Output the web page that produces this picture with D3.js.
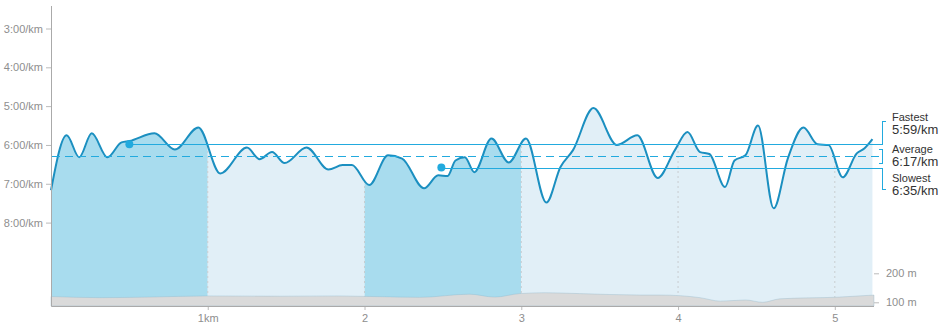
<!DOCTYPE html>
<html>
<head>
<meta charset="utf-8">
<script src="https://cdn.jsdelivr.net/npm/d3@7"></script>
<style>
  body { margin: 0; background: #fff; }
  svg { display: block; font-family: Arial, "Liberation Sans", sans-serif; }
  .axis text { fill: #8e8e8e; font-size: 11px; }
  .axis line { stroke: #bbb; }
</style>
</head>
<body>
<div class="canvas"></div>
<script>
// pace along the run: distance (km) and pace (seconds per km)
const distKm = [0, 0.10, 0.18, 0.26, 0.36, 0.45, 0.50, 0.66, 0.79, 0.94, 1.08, 1.25, 1.33, 1.41, 1.49,
    1.63, 1.77, 1.86, 1.92, 2.03, 2.15, 2.24, 2.38, 2.47, 2.53, 2.58, 2.64, 2.70, 2.81, 2.92, 3.03,
    3.16, 3.25, 3.33, 3.46, 3.61, 3.74, 3.87, 3.98, 4.06, 4.14, 4.20, 4.30, 4.36, 4.43, 4.51, 4.61,
    4.70, 4.80, 4.89, 4.96, 5.05, 5.14, 5.19, 5.24];
const paceSec = [430, 345, 379, 342, 379, 356, 354, 342, 367, 333, 404, 364, 382, 371, 388,
    364, 398, 391, 391, 422, 376, 381, 427, 407, 408, 384, 379, 402, 350, 387, 350,
    449, 394, 368, 303, 360, 345, 411, 368, 340, 371, 374, 425, 384, 376, 330, 458,
    381, 333, 359, 360, 410, 373, 365, 351];

// elevation profile
const elevDist = [0, 0.31, 0.63, 1.0, 1.46, 1.84, 2.35, 2.67, 2.83, 2.99, 3.15, 3.37, 3.76, 3.89,
    4.14, 4.27, 4.43, 4.54, 4.65, 5.03, 5.25];
const elevM = [120, 116, 118, 122, 121, 122, 117, 128, 118, 130, 133, 130, 125, 125,
    116, 104, 108, 100, 112, 118, 125];

const lapBounds = [0, 1, 2, 3, 4, 5, 5.25];
const lapHighlight = [true, false, true, false, false, false];

const paceTicks = [180, 240, 300, 360, 420, 480];
const kmTicks = [1, 2, 3, 4, 5];
const elevTicks = [100, 200];

const summaryNames = ['Fastest', 'Average', 'Slowest'];
const summaryPace = [359, 377, 395];
const summaryDist = [0.5, 0, 2.49];

const dims = { width: 940, height: 329, left: 52, right: 874, top: 6, bottom: 306 };

const svg = d3.select('.canvas')
    .append('svg')
    .attr('width', dims.width)
    .attr('height', dims.height);

const x = d3.scaleLinear().domain([0, 5.25]).range([51, dims.right]);
const y = d3.scaleLinear().domain([180, 480]).range([28.5, 222.6]);
const yElev = d3.scaleLinear().domain([100, 200]).range([302.3, 273.3]);

const fmtPace = s => `${Math.floor(s / 60)}:${String(Math.round(s % 60)).padStart(2, '0')}/km`;

const paceData = distKm.map((d, i) => ({ d, p: paceSec[i] }));
const elevData = elevDist.map((d, i) => ({ d, e: elevM[i] }));

const paceArea = d3.area()
    .curve(d3.curveMonotoneX)
    .x(v => x(v.d))
    .y0(dims.bottom)
    .y1(v => y(v.p));

const paceLine = d3.line()
    .curve(d3.curveMonotoneX)
    .x(v => x(v.d))
    .y(v => y(v.p));

// clip laps to the pace area
svg.append('clipPath')
    .attr('id', 'paceClip')
  .append('path')
    .attr('d', paceArea(paceData));

const laps = svg.append('g').attr('clip-path', 'url(#paceClip)');

laps.selectAll('rect')
    .data(lapBounds.slice(0, -1))
    .enter()
    .append('rect')
    .attr('x', (d, i) => x(d))
    .attr('width', (d, i) => x(lapBounds[i + 1]) - x(d))
    .attr('y', dims.top)
    .attr('height', dims.bottom - dims.top)
    .attr('fill', (d, i) => lapHighlight[i] ? '#a8dcee' : '#e1eff7');

laps.selectAll('line')
    .data(kmTicks)
    .enter()
    .append('line')
    .attr('x1', d => x(d)).attr('x2', d => x(d))
    .attr('y1', dims.top).attr('y2', dims.bottom)
    .attr('stroke', '#c8cdd0')
    .attr('stroke-dasharray', '2,3');

// elevation
const elevArea = d3.area()
    .curve(d3.curveMonotoneX)
    .x(v => x(v.d))
    .y0(dims.bottom)
    .y1(v => yElev(v.e));

svg.append('path')
    .attr('d', elevArea(elevData))
    .attr('fill', '#dadada')
    .attr('stroke', 'rgba(140,180,200,0.35)')
    .attr('stroke-width', 1);

// pace line
svg.append('path')
    .attr('d', paceLine(paceData))
    .attr('fill', 'none')
    .attr('stroke', '#1b8fc0')
    .attr('stroke-width', 2);

// axes
const yAxis = svg.append('g')
    .attr('class', 'axis')
    .attr('transform', `translate(${dims.left},0)`)
    .call(d3.axisLeft(y).tickValues(paceTicks).tickSize(6).tickPadding(3).tickFormat(fmtPace));
yAxis.select('.domain').remove();

const xAxis = svg.append('g')
    .attr('class', 'axis')
    .attr('transform', `translate(0,${dims.bottom})`)
    .call(d3.axisBottom(x).tickValues(kmTicks).tickSize(4).tickPadding(4)
        .tickFormat(d => d === 1 ? '1km' : d));
xAxis.select('.domain').remove();

const eAxis = svg.append('g')
    .attr('class', 'axis')
    .attr('transform', `translate(${dims.right},0)`)
    .call(d3.axisRight(yElev).tickValues(elevTicks).tickSize(5).tickPadding(7)
        .tickFormat(d => `${d} m`));
eAxis.select('.domain').remove();

svg.append('path')
    .attr('d', `M${dims.left - 0.5},${dims.top}V${dims.bottom + 0.5}H${dims.right}`)
    .attr('fill', 'none')
    .attr('stroke', '#aaa');

// summary lines, drawn as thin rects
const lineColor = '#22aade';
const lineEnd = 882;
const bx = 882;
const marks = svg.append('g').attr('fill', lineColor);

summaryNames.forEach((name, i) => {
    const yy = Math.round(y(summaryPace[i]));
    const x0 = name === 'Average' ? dims.left : x(summaryDist[i]);
    if (name === 'Average') {
        d3.range(x0, lineEnd, 13).forEach(s => {
            marks.append('rect')
                .attr('x', s).attr('y', yy)
                .attr('width', Math.min(8, lineEnd - s)).attr('height', 1);
        });
    } else {
        marks.append('rect')
            .attr('x', x0).attr('y', yy)
            .attr('width', lineEnd - x0).attr('height', 1);
        marks.append('circle')
            .attr('cx', x(summaryDist[i]))
            .attr('cy', y(summaryPace[i]))
            .attr('r', 4);
    }
});

// brackets to the labels
const yFast = Math.round(y(summaryPace[0]));
const ySlow = Math.round(y(summaryPace[2]));
const bracketRects = [
    [bx, 121, 1, yFast - 121 + 1], [bx, 121, 4, 1],
    [bx, 149, 1, 15], [bx - 3, 149, 4, 1], [bx - 3, 163, 4, 1],
    [bx, ySlow, 1, 189 - ySlow + 1], [bx, 189, 4, 1]
];
marks.selectAll('.bracket')
    .data(bracketRects)
    .enter()
    .append('rect')
    .attr('class', 'bracket')
    .attr('x', d => d[0]).attr('y', d => d[1])
    .attr('width', d => d[2]).attr('height', d => d[3]);

const labelTop = [120.5, 152.5, 181.5];
const labels = svg.append('g').attr('fill', '#333');
summaryNames.forEach((name, i) => {
    labels.append('text')
        .attr('x', 892).attr('y', labelTop[i])
        .attr('font-size', 11)
        .text(name);
    labels.append('text')
        .attr('x', 892).attr('y', labelTop[i] + 13.5)
        .attr('font-size', 13)
        .text(fmtPace(summaryPace[i]));
});
</script>
</body>
</html>
